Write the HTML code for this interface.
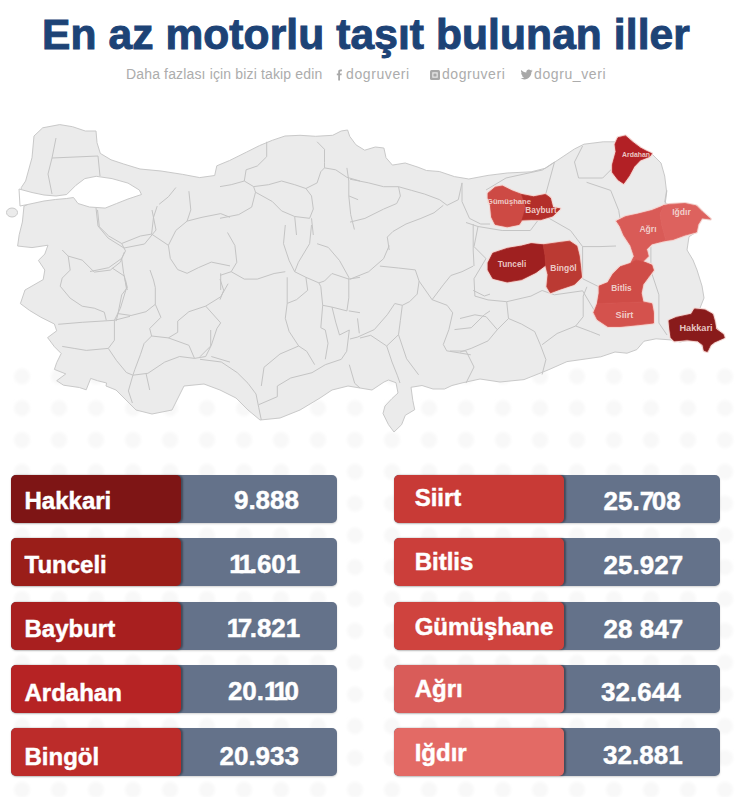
<!DOCTYPE html>
<html><head><meta charset="utf-8">
<style>
html,body{margin:0;padding:0;background:#fff;}
body{width:750px;height:797px;position:relative;overflow:hidden;font-family:"Liberation Sans",sans-serif;}
svg.bg{position:absolute;left:0;top:0;}
.title{position:absolute;left:42px;top:10.5px;font-weight:bold;font-size:42.5px;color:#1d4376;-webkit-text-stroke:1px #1d4376;white-space:nowrap;letter-spacing:0.1px;}
.sub{position:absolute;top:66px;font-size:14px;color:#acacac;white-space:nowrap;}
.bar{position:absolute;height:48px;background:#64728a;border-radius:5px;box-shadow:0 1px 2px rgba(0,0,0,0.18);}
.red{position:absolute;left:0;top:0;bottom:0;border-radius:5px;box-shadow:1.5px 0 2px rgba(0,0,0,0.35);}
.lab{position:absolute;height:48px;line-height:48px;font-weight:bold;font-size:24px;color:#fff;-webkit-text-stroke:0.45px #fff;white-space:nowrap;}
.num{position:absolute;height:48px;line-height:48px;font-weight:bold;font-size:26px;color:#fff;-webkit-text-stroke:0.45px #fff;white-space:nowrap;letter-spacing:0px;}
</style></head><body>
<svg class="bg" width="750" height="797" viewBox="0 0 750 797">
<defs><filter id="bl" x="-10%" y="-10%" width="120%" height="120%"><feGaussianBlur stdDeviation="1.5"/></filter></defs>
<g filter="url(#bl)"><circle cx="22.0" cy="376.4" r="8" fill="#f8f8f8"/><circle cx="59.0" cy="376.4" r="8" fill="#f8f8f8"/><circle cx="96.0" cy="376.4" r="8" fill="#f8f8f8"/><circle cx="133.0" cy="376.4" r="8" fill="#f8f8f8"/><circle cx="170.0" cy="376.4" r="8" fill="#f8f8f8"/><circle cx="207.0" cy="376.4" r="8" fill="#f8f8f8"/><circle cx="244.0" cy="376.4" r="8" fill="#f8f8f8"/><circle cx="281.0" cy="376.4" r="8" fill="#f8f8f8"/><circle cx="318.0" cy="376.4" r="8" fill="#f8f8f8"/><circle cx="355.0" cy="376.4" r="8" fill="#f8f8f8"/><circle cx="392.0" cy="376.4" r="8" fill="#f8f8f8"/><circle cx="429.0" cy="376.4" r="8" fill="#f8f8f8"/><circle cx="466.0" cy="376.4" r="8" fill="#f8f8f8"/><circle cx="503.0" cy="376.4" r="8" fill="#f8f8f8"/><circle cx="540.0" cy="376.4" r="8" fill="#f8f8f8"/><circle cx="577.0" cy="376.4" r="8" fill="#f8f8f8"/><circle cx="614.0" cy="376.4" r="8" fill="#f8f8f8"/><circle cx="651.0" cy="376.4" r="8" fill="#f8f8f8"/><circle cx="688.0" cy="376.4" r="8" fill="#f8f8f8"/><circle cx="725.0" cy="376.4" r="8" fill="#f8f8f8"/><circle cx="762.0" cy="376.4" r="8" fill="#f8f8f8"/><circle cx="22.0" cy="408.2" r="8" fill="#f8f8f8"/><circle cx="59.0" cy="408.2" r="8" fill="#f8f8f8"/><circle cx="96.0" cy="408.2" r="8" fill="#f8f8f8"/><circle cx="133.0" cy="408.2" r="8" fill="#f8f8f8"/><circle cx="170.0" cy="408.2" r="8" fill="#f8f8f8"/><circle cx="207.0" cy="408.2" r="8" fill="#f8f8f8"/><circle cx="244.0" cy="408.2" r="8" fill="#f8f8f8"/><circle cx="281.0" cy="408.2" r="8" fill="#f8f8f8"/><circle cx="318.0" cy="408.2" r="8" fill="#f8f8f8"/><circle cx="355.0" cy="408.2" r="8" fill="#f8f8f8"/><circle cx="392.0" cy="408.2" r="8" fill="#f8f8f8"/><circle cx="429.0" cy="408.2" r="8" fill="#f8f8f8"/><circle cx="466.0" cy="408.2" r="8" fill="#f8f8f8"/><circle cx="503.0" cy="408.2" r="8" fill="#f8f8f8"/><circle cx="540.0" cy="408.2" r="8" fill="#f8f8f8"/><circle cx="577.0" cy="408.2" r="8" fill="#f8f8f8"/><circle cx="614.0" cy="408.2" r="8" fill="#f8f8f8"/><circle cx="651.0" cy="408.2" r="8" fill="#f8f8f8"/><circle cx="688.0" cy="408.2" r="8" fill="#f8f8f8"/><circle cx="725.0" cy="408.2" r="8" fill="#f8f8f8"/><circle cx="762.0" cy="408.2" r="8" fill="#f8f8f8"/><circle cx="22.0" cy="440.0" r="8" fill="#f8f8f8"/><circle cx="59.0" cy="440.0" r="8" fill="#f8f8f8"/><circle cx="96.0" cy="440.0" r="8" fill="#f8f8f8"/><circle cx="133.0" cy="440.0" r="8" fill="#f8f8f8"/><circle cx="170.0" cy="440.0" r="8" fill="#f8f8f8"/><circle cx="207.0" cy="440.0" r="8" fill="#f8f8f8"/><circle cx="244.0" cy="440.0" r="8" fill="#f8f8f8"/><circle cx="281.0" cy="440.0" r="8" fill="#f8f8f8"/><circle cx="318.0" cy="440.0" r="8" fill="#f8f8f8"/><circle cx="355.0" cy="440.0" r="8" fill="#f8f8f8"/><circle cx="392.0" cy="440.0" r="8" fill="#f8f8f8"/><circle cx="429.0" cy="440.0" r="8" fill="#f8f8f8"/><circle cx="466.0" cy="440.0" r="8" fill="#f8f8f8"/><circle cx="503.0" cy="440.0" r="8" fill="#f8f8f8"/><circle cx="540.0" cy="440.0" r="8" fill="#f8f8f8"/><circle cx="577.0" cy="440.0" r="8" fill="#f8f8f8"/><circle cx="614.0" cy="440.0" r="8" fill="#f8f8f8"/><circle cx="651.0" cy="440.0" r="8" fill="#f8f8f8"/><circle cx="688.0" cy="440.0" r="8" fill="#f8f8f8"/><circle cx="725.0" cy="440.0" r="8" fill="#f8f8f8"/><circle cx="762.0" cy="440.0" r="8" fill="#f8f8f8"/><circle cx="22.0" cy="471.8" r="8" fill="#f8f8f8"/><circle cx="59.0" cy="471.8" r="8" fill="#f8f8f8"/><circle cx="96.0" cy="471.8" r="8" fill="#f8f8f8"/><circle cx="133.0" cy="471.8" r="8" fill="#f8f8f8"/><circle cx="170.0" cy="471.8" r="8" fill="#f8f8f8"/><circle cx="207.0" cy="471.8" r="8" fill="#f8f8f8"/><circle cx="244.0" cy="471.8" r="8" fill="#f8f8f8"/><circle cx="281.0" cy="471.8" r="8" fill="#f8f8f8"/><circle cx="318.0" cy="471.8" r="8" fill="#f8f8f8"/><circle cx="355.0" cy="471.8" r="8" fill="#f8f8f8"/><circle cx="392.0" cy="471.8" r="8" fill="#f8f8f8"/><circle cx="429.0" cy="471.8" r="8" fill="#f8f8f8"/><circle cx="466.0" cy="471.8" r="8" fill="#f8f8f8"/><circle cx="503.0" cy="471.8" r="8" fill="#f8f8f8"/><circle cx="540.0" cy="471.8" r="8" fill="#f8f8f8"/><circle cx="577.0" cy="471.8" r="8" fill="#f8f8f8"/><circle cx="614.0" cy="471.8" r="8" fill="#f8f8f8"/><circle cx="651.0" cy="471.8" r="8" fill="#f8f8f8"/><circle cx="688.0" cy="471.8" r="8" fill="#f8f8f8"/><circle cx="725.0" cy="471.8" r="8" fill="#f8f8f8"/><circle cx="762.0" cy="471.8" r="8" fill="#f8f8f8"/><circle cx="22.0" cy="503.6" r="8" fill="#f8f8f8"/><circle cx="59.0" cy="503.6" r="8" fill="#f8f8f8"/><circle cx="96.0" cy="503.6" r="8" fill="#f8f8f8"/><circle cx="133.0" cy="503.6" r="8" fill="#f8f8f8"/><circle cx="170.0" cy="503.6" r="8" fill="#f8f8f8"/><circle cx="207.0" cy="503.6" r="8" fill="#f8f8f8"/><circle cx="244.0" cy="503.6" r="8" fill="#f8f8f8"/><circle cx="281.0" cy="503.6" r="8" fill="#f8f8f8"/><circle cx="318.0" cy="503.6" r="8" fill="#f8f8f8"/><circle cx="355.0" cy="503.6" r="8" fill="#f8f8f8"/><circle cx="392.0" cy="503.6" r="8" fill="#f8f8f8"/><circle cx="429.0" cy="503.6" r="8" fill="#f8f8f8"/><circle cx="466.0" cy="503.6" r="8" fill="#f8f8f8"/><circle cx="503.0" cy="503.6" r="8" fill="#f8f8f8"/><circle cx="540.0" cy="503.6" r="8" fill="#f8f8f8"/><circle cx="577.0" cy="503.6" r="8" fill="#f8f8f8"/><circle cx="614.0" cy="503.6" r="8" fill="#f8f8f8"/><circle cx="651.0" cy="503.6" r="8" fill="#f8f8f8"/><circle cx="688.0" cy="503.6" r="8" fill="#f8f8f8"/><circle cx="725.0" cy="503.6" r="8" fill="#f8f8f8"/><circle cx="762.0" cy="503.6" r="8" fill="#f8f8f8"/><circle cx="22.0" cy="535.4" r="8" fill="#f8f8f8"/><circle cx="59.0" cy="535.4" r="8" fill="#f8f8f8"/><circle cx="96.0" cy="535.4" r="8" fill="#f8f8f8"/><circle cx="133.0" cy="535.4" r="8" fill="#f8f8f8"/><circle cx="170.0" cy="535.4" r="8" fill="#f8f8f8"/><circle cx="207.0" cy="535.4" r="8" fill="#f8f8f8"/><circle cx="244.0" cy="535.4" r="8" fill="#f8f8f8"/><circle cx="281.0" cy="535.4" r="8" fill="#f8f8f8"/><circle cx="318.0" cy="535.4" r="8" fill="#f8f8f8"/><circle cx="355.0" cy="535.4" r="8" fill="#f8f8f8"/><circle cx="392.0" cy="535.4" r="8" fill="#f8f8f8"/><circle cx="429.0" cy="535.4" r="8" fill="#f8f8f8"/><circle cx="466.0" cy="535.4" r="8" fill="#f8f8f8"/><circle cx="503.0" cy="535.4" r="8" fill="#f8f8f8"/><circle cx="540.0" cy="535.4" r="8" fill="#f8f8f8"/><circle cx="577.0" cy="535.4" r="8" fill="#f8f8f8"/><circle cx="614.0" cy="535.4" r="8" fill="#f8f8f8"/><circle cx="651.0" cy="535.4" r="8" fill="#f8f8f8"/><circle cx="688.0" cy="535.4" r="8" fill="#f8f8f8"/><circle cx="725.0" cy="535.4" r="8" fill="#f8f8f8"/><circle cx="762.0" cy="535.4" r="8" fill="#f8f8f8"/><circle cx="22.0" cy="567.2" r="8" fill="#f8f8f8"/><circle cx="59.0" cy="567.2" r="8" fill="#f8f8f8"/><circle cx="96.0" cy="567.2" r="8" fill="#f8f8f8"/><circle cx="133.0" cy="567.2" r="8" fill="#f8f8f8"/><circle cx="170.0" cy="567.2" r="8" fill="#f8f8f8"/><circle cx="207.0" cy="567.2" r="8" fill="#f8f8f8"/><circle cx="244.0" cy="567.2" r="8" fill="#f8f8f8"/><circle cx="281.0" cy="567.2" r="8" fill="#f8f8f8"/><circle cx="318.0" cy="567.2" r="8" fill="#f8f8f8"/><circle cx="355.0" cy="567.2" r="8" fill="#f8f8f8"/><circle cx="392.0" cy="567.2" r="8" fill="#f8f8f8"/><circle cx="429.0" cy="567.2" r="8" fill="#f8f8f8"/><circle cx="466.0" cy="567.2" r="8" fill="#f8f8f8"/><circle cx="503.0" cy="567.2" r="8" fill="#f8f8f8"/><circle cx="540.0" cy="567.2" r="8" fill="#f8f8f8"/><circle cx="577.0" cy="567.2" r="8" fill="#f8f8f8"/><circle cx="614.0" cy="567.2" r="8" fill="#f8f8f8"/><circle cx="651.0" cy="567.2" r="8" fill="#f8f8f8"/><circle cx="688.0" cy="567.2" r="8" fill="#f8f8f8"/><circle cx="725.0" cy="567.2" r="8" fill="#f8f8f8"/><circle cx="762.0" cy="567.2" r="8" fill="#f8f8f8"/><circle cx="22.0" cy="599.0" r="8" fill="#f8f8f8"/><circle cx="59.0" cy="599.0" r="8" fill="#f8f8f8"/><circle cx="96.0" cy="599.0" r="8" fill="#f8f8f8"/><circle cx="133.0" cy="599.0" r="8" fill="#f8f8f8"/><circle cx="170.0" cy="599.0" r="8" fill="#f8f8f8"/><circle cx="207.0" cy="599.0" r="8" fill="#f8f8f8"/><circle cx="244.0" cy="599.0" r="8" fill="#f8f8f8"/><circle cx="281.0" cy="599.0" r="8" fill="#f8f8f8"/><circle cx="318.0" cy="599.0" r="8" fill="#f8f8f8"/><circle cx="355.0" cy="599.0" r="8" fill="#f8f8f8"/><circle cx="392.0" cy="599.0" r="8" fill="#f8f8f8"/><circle cx="429.0" cy="599.0" r="8" fill="#f8f8f8"/><circle cx="466.0" cy="599.0" r="8" fill="#f8f8f8"/><circle cx="503.0" cy="599.0" r="8" fill="#f8f8f8"/><circle cx="540.0" cy="599.0" r="8" fill="#f8f8f8"/><circle cx="577.0" cy="599.0" r="8" fill="#f8f8f8"/><circle cx="614.0" cy="599.0" r="8" fill="#f8f8f8"/><circle cx="651.0" cy="599.0" r="8" fill="#f8f8f8"/><circle cx="688.0" cy="599.0" r="8" fill="#f8f8f8"/><circle cx="725.0" cy="599.0" r="8" fill="#f8f8f8"/><circle cx="762.0" cy="599.0" r="8" fill="#f8f8f8"/><circle cx="22.0" cy="630.8" r="8" fill="#f8f8f8"/><circle cx="59.0" cy="630.8" r="8" fill="#f8f8f8"/><circle cx="96.0" cy="630.8" r="8" fill="#f8f8f8"/><circle cx="133.0" cy="630.8" r="8" fill="#f8f8f8"/><circle cx="170.0" cy="630.8" r="8" fill="#f8f8f8"/><circle cx="207.0" cy="630.8" r="8" fill="#f8f8f8"/><circle cx="244.0" cy="630.8" r="8" fill="#f8f8f8"/><circle cx="281.0" cy="630.8" r="8" fill="#f8f8f8"/><circle cx="318.0" cy="630.8" r="8" fill="#f8f8f8"/><circle cx="355.0" cy="630.8" r="8" fill="#f8f8f8"/><circle cx="392.0" cy="630.8" r="8" fill="#f8f8f8"/><circle cx="429.0" cy="630.8" r="8" fill="#f8f8f8"/><circle cx="466.0" cy="630.8" r="8" fill="#f8f8f8"/><circle cx="503.0" cy="630.8" r="8" fill="#f8f8f8"/><circle cx="540.0" cy="630.8" r="8" fill="#f8f8f8"/><circle cx="577.0" cy="630.8" r="8" fill="#f8f8f8"/><circle cx="614.0" cy="630.8" r="8" fill="#f8f8f8"/><circle cx="651.0" cy="630.8" r="8" fill="#f8f8f8"/><circle cx="688.0" cy="630.8" r="8" fill="#f8f8f8"/><circle cx="725.0" cy="630.8" r="8" fill="#f8f8f8"/><circle cx="762.0" cy="630.8" r="8" fill="#f8f8f8"/><circle cx="22.0" cy="662.6" r="8" fill="#f8f8f8"/><circle cx="59.0" cy="662.6" r="8" fill="#f8f8f8"/><circle cx="96.0" cy="662.6" r="8" fill="#f8f8f8"/><circle cx="133.0" cy="662.6" r="8" fill="#f8f8f8"/><circle cx="170.0" cy="662.6" r="8" fill="#f8f8f8"/><circle cx="207.0" cy="662.6" r="8" fill="#f8f8f8"/><circle cx="244.0" cy="662.6" r="8" fill="#f8f8f8"/><circle cx="281.0" cy="662.6" r="8" fill="#f8f8f8"/><circle cx="318.0" cy="662.6" r="8" fill="#f8f8f8"/><circle cx="355.0" cy="662.6" r="8" fill="#f8f8f8"/><circle cx="392.0" cy="662.6" r="8" fill="#f8f8f8"/><circle cx="429.0" cy="662.6" r="8" fill="#f8f8f8"/><circle cx="466.0" cy="662.6" r="8" fill="#f8f8f8"/><circle cx="503.0" cy="662.6" r="8" fill="#f8f8f8"/><circle cx="540.0" cy="662.6" r="8" fill="#f8f8f8"/><circle cx="577.0" cy="662.6" r="8" fill="#f8f8f8"/><circle cx="614.0" cy="662.6" r="8" fill="#f8f8f8"/><circle cx="651.0" cy="662.6" r="8" fill="#f8f8f8"/><circle cx="688.0" cy="662.6" r="8" fill="#f8f8f8"/><circle cx="725.0" cy="662.6" r="8" fill="#f8f8f8"/><circle cx="762.0" cy="662.6" r="8" fill="#f8f8f8"/><circle cx="22.0" cy="694.4" r="8" fill="#f8f8f8"/><circle cx="59.0" cy="694.4" r="8" fill="#f8f8f8"/><circle cx="96.0" cy="694.4" r="8" fill="#f8f8f8"/><circle cx="133.0" cy="694.4" r="8" fill="#f8f8f8"/><circle cx="170.0" cy="694.4" r="8" fill="#f8f8f8"/><circle cx="207.0" cy="694.4" r="8" fill="#f8f8f8"/><circle cx="244.0" cy="694.4" r="8" fill="#f8f8f8"/><circle cx="281.0" cy="694.4" r="8" fill="#f8f8f8"/><circle cx="318.0" cy="694.4" r="8" fill="#f8f8f8"/><circle cx="355.0" cy="694.4" r="8" fill="#f8f8f8"/><circle cx="392.0" cy="694.4" r="8" fill="#f8f8f8"/><circle cx="429.0" cy="694.4" r="8" fill="#f8f8f8"/><circle cx="466.0" cy="694.4" r="8" fill="#f8f8f8"/><circle cx="503.0" cy="694.4" r="8" fill="#f8f8f8"/><circle cx="540.0" cy="694.4" r="8" fill="#f8f8f8"/><circle cx="577.0" cy="694.4" r="8" fill="#f8f8f8"/><circle cx="614.0" cy="694.4" r="8" fill="#f8f8f8"/><circle cx="651.0" cy="694.4" r="8" fill="#f8f8f8"/><circle cx="688.0" cy="694.4" r="8" fill="#f8f8f8"/><circle cx="725.0" cy="694.4" r="8" fill="#f8f8f8"/><circle cx="762.0" cy="694.4" r="8" fill="#f8f8f8"/><circle cx="22.0" cy="726.2" r="8" fill="#f8f8f8"/><circle cx="59.0" cy="726.2" r="8" fill="#f8f8f8"/><circle cx="96.0" cy="726.2" r="8" fill="#f8f8f8"/><circle cx="133.0" cy="726.2" r="8" fill="#f8f8f8"/><circle cx="170.0" cy="726.2" r="8" fill="#f8f8f8"/><circle cx="207.0" cy="726.2" r="8" fill="#f8f8f8"/><circle cx="244.0" cy="726.2" r="8" fill="#f8f8f8"/><circle cx="281.0" cy="726.2" r="8" fill="#f8f8f8"/><circle cx="318.0" cy="726.2" r="8" fill="#f8f8f8"/><circle cx="355.0" cy="726.2" r="8" fill="#f8f8f8"/><circle cx="392.0" cy="726.2" r="8" fill="#f8f8f8"/><circle cx="429.0" cy="726.2" r="8" fill="#f8f8f8"/><circle cx="466.0" cy="726.2" r="8" fill="#f8f8f8"/><circle cx="503.0" cy="726.2" r="8" fill="#f8f8f8"/><circle cx="540.0" cy="726.2" r="8" fill="#f8f8f8"/><circle cx="577.0" cy="726.2" r="8" fill="#f8f8f8"/><circle cx="614.0" cy="726.2" r="8" fill="#f8f8f8"/><circle cx="651.0" cy="726.2" r="8" fill="#f8f8f8"/><circle cx="688.0" cy="726.2" r="8" fill="#f8f8f8"/><circle cx="725.0" cy="726.2" r="8" fill="#f8f8f8"/><circle cx="762.0" cy="726.2" r="8" fill="#f8f8f8"/><circle cx="22.0" cy="758.0" r="8" fill="#f8f8f8"/><circle cx="59.0" cy="758.0" r="8" fill="#f8f8f8"/><circle cx="96.0" cy="758.0" r="8" fill="#f8f8f8"/><circle cx="133.0" cy="758.0" r="8" fill="#f8f8f8"/><circle cx="170.0" cy="758.0" r="8" fill="#f8f8f8"/><circle cx="207.0" cy="758.0" r="8" fill="#f8f8f8"/><circle cx="244.0" cy="758.0" r="8" fill="#f8f8f8"/><circle cx="281.0" cy="758.0" r="8" fill="#f8f8f8"/><circle cx="318.0" cy="758.0" r="8" fill="#f8f8f8"/><circle cx="355.0" cy="758.0" r="8" fill="#f8f8f8"/><circle cx="392.0" cy="758.0" r="8" fill="#f8f8f8"/><circle cx="429.0" cy="758.0" r="8" fill="#f8f8f8"/><circle cx="466.0" cy="758.0" r="8" fill="#f8f8f8"/><circle cx="503.0" cy="758.0" r="8" fill="#f8f8f8"/><circle cx="540.0" cy="758.0" r="8" fill="#f8f8f8"/><circle cx="577.0" cy="758.0" r="8" fill="#f8f8f8"/><circle cx="614.0" cy="758.0" r="8" fill="#f8f8f8"/><circle cx="651.0" cy="758.0" r="8" fill="#f8f8f8"/><circle cx="688.0" cy="758.0" r="8" fill="#f8f8f8"/><circle cx="725.0" cy="758.0" r="8" fill="#f8f8f8"/><circle cx="762.0" cy="758.0" r="8" fill="#f8f8f8"/><circle cx="22.0" cy="789.8" r="8" fill="#f8f8f8"/><circle cx="59.0" cy="789.8" r="8" fill="#f8f8f8"/><circle cx="96.0" cy="789.8" r="8" fill="#f8f8f8"/><circle cx="133.0" cy="789.8" r="8" fill="#f8f8f8"/><circle cx="170.0" cy="789.8" r="8" fill="#f8f8f8"/><circle cx="207.0" cy="789.8" r="8" fill="#f8f8f8"/><circle cx="244.0" cy="789.8" r="8" fill="#f8f8f8"/><circle cx="281.0" cy="789.8" r="8" fill="#f8f8f8"/><circle cx="318.0" cy="789.8" r="8" fill="#f8f8f8"/><circle cx="355.0" cy="789.8" r="8" fill="#f8f8f8"/><circle cx="392.0" cy="789.8" r="8" fill="#f8f8f8"/><circle cx="429.0" cy="789.8" r="8" fill="#f8f8f8"/><circle cx="466.0" cy="789.8" r="8" fill="#f8f8f8"/><circle cx="503.0" cy="789.8" r="8" fill="#f8f8f8"/><circle cx="540.0" cy="789.8" r="8" fill="#f8f8f8"/><circle cx="577.0" cy="789.8" r="8" fill="#f8f8f8"/><circle cx="614.0" cy="789.8" r="8" fill="#f8f8f8"/><circle cx="651.0" cy="789.8" r="8" fill="#f8f8f8"/><circle cx="688.0" cy="789.8" r="8" fill="#f8f8f8"/><circle cx="725.0" cy="789.8" r="8" fill="#f8f8f8"/><circle cx="762.0" cy="789.8" r="8" fill="#f8f8f8"/></g>
<g stroke="#c9c9c9" stroke-width="1" stroke-linejoin="round">
<polygon points="34.0,136.0 42.7,127.8 59.7,124.6 72.5,126.7 85.3,131.0 96.0,131.0 97.0,142.7 100.3,153.4 111.0,159.8 123.7,164.0 140.0,169.0 161.0,171.0 182.7,174.4 199.7,177.6 214.7,175.5 216.8,165.8 229.6,160.5 246.7,152.0 259.5,145.6 272.3,140.3 285.0,136.0 300.0,135.3 315.6,136.3 332.7,135.3 341.2,131.0 347.6,130.0 349.7,136.3 356.0,144.9 364.7,150.2 375.3,147.0 383.9,148.0 386.0,157.7 392.4,165.1 405.2,163.0 418.0,167.2 426.5,170.5 439.3,171.5 454.4,176.6 468.8,179.0 488.0,175.4 507.2,173.0 531.2,171.8 545.6,168.2 560.0,158.6 574.4,149.0 584.0,144.2 603.2,141.8 615.2,141.8 618.0,137.7 625.5,135.9 633.0,142.4 640.4,148.0 651.6,153.6 661.0,163.0 664.7,176.0 666.5,191.0 664.7,202.0 670.0,205.9 683.0,205.0 696.4,205.9 702.0,211.5 710.4,219.0 702.0,218.0 698.0,224.5 696.4,232.0 689.0,236.7 687.0,250.0 693.0,260.0 697.0,270.0 702.0,286.0 704.0,298.0 700.0,308.0 704.0,310.0 712.0,314.0 714.0,324.0 720.0,332.0 724.0,338.0 716.0,340.0 710.0,344.0 708.0,350.0 704.0,350.0 700.0,342.0 690.0,340.0 680.0,342.0 672.0,340.0 656.0,338.8 644.0,341.2 636.8,349.6 627.0,353.2 615.0,352.0 600.8,356.8 584.0,359.2 567.0,361.6 548.0,370.0 524.0,379.6 500.0,382.0 480.0,379.0 463.0,382.7 452.0,385.5 444.5,389.0 433.0,389.0 422.0,385.5 411.0,387.3 412.8,400.4 414.7,409.7 405.3,415.3 401.6,424.7 394.0,432.0 388.5,424.7 383.0,413.5 385.0,406.0 392.0,398.5 398.0,393.0 396.0,382.7 388.5,380.0 384.0,382.0 372.0,390.0 360.0,388.0 348.0,386.0 332.0,390.0 320.0,398.0 300.0,410.0 280.0,418.0 260.0,420.0 248.0,410.0 236.0,398.0 220.0,390.0 204.0,384.0 184.0,386.0 180.0,394.0 172.0,410.0 152.0,414.0 136.0,410.0 128.0,402.0 116.0,390.0 106.0,386.0 106.6,383.0 97.5,380.7 90.7,378.4 86.2,389.8 79.4,387.5 63.5,385.2 56.7,380.7 65.8,373.9 54.4,369.4 56.7,362.6 61.2,353.5 54.4,346.7 47.6,337.6 56.7,330.8 54.4,324.0 40.8,317.2 29.5,310.4 20.4,303.6 25.0,290.0 32.0,286.0 43.2,279.6 44.8,270.0 38.4,260.4 44.8,254.0 48.0,245.2 32.0,247.6 17.6,246.0 19.2,234.8 22.4,222.0 24.0,206.0 27.7,204.6 21.0,194.0 21.3,187.5 25.6,181.0 32.0,157.7" fill="#ebebeb"/>
<polygon points="19.0,189.0 32.0,192.5 44.0,195.0 56.0,196.0 66.7,194.5 75.8,185.4 84.8,178.6 96.2,176.3 112.0,178.6 128.0,183.1 139.3,190.0 141.5,194.5 128.0,199.0 116.6,203.5 105.2,208.1 89.4,207.0 78.0,203.5 73.5,197.5 66.7,198.5 55.3,199.5 44.0,201.0 30.0,204.0 20.0,206.0" fill="#ffffff"/>
<ellipse cx="12" cy="212.5" rx="5.5" ry="4.5" fill="#ebebeb"/>
</g>
<g stroke="#c4c4c4" stroke-width="1" fill="none" stroke-linejoin="round">
<polyline points="56.0,138.0 52.0,158.0 48.0,174.0 52.0,194.0"/><polyline points="52.0,158.0 75.0,157.0 98.0,156.0"/><polyline points="98.0,156.0 100.0,176.0"/><polyline points="96.0,208.0 98.0,226.0 108.0,238.0 124.0,248.0"/><polyline points="152.0,210.0 156.0,230.0 144.5,244.0 124.0,248.0"/><polyline points="97.5,209.9 99.3,226.7 108.7,236.0 121.7,243.5 125.5,250.9 121.7,258.4 108.7,267.7 90.0,271.5"/><polyline points="121.7,243.5 140.4,236.0 151.6,234.1 153.5,217.3 157.2,206.1"/><polyline points="151.6,234.1 168.4,245.3 170.3,258.4 177.7,269.6 187.1,273.3 198.3,267.7 211.3,262.1 230.0,265.9"/><polyline points="168.4,245.3 175.9,230.4 187.1,221.1 190.8,209.9 188.9,191.2"/><polyline points="187.1,221.1 202.0,217.3 220.7,213.6 230.0,217.3"/><polyline points="121.7,258.4 123.6,273.3 127.3,290.0"/><polyline points="159.1,204.3 168.4,196.8 175.9,187.5"/><polyline points="220.7,273.3 220.7,290.0"/><polyline points="62.2,250.0 68.2,256.1 70.2,270.1 62.2,278.1 60.2,286.2 70.2,298.2 82.2,306.2 94.3,308.2 104.3,312.2 106.3,320.3"/><polyline points="68.2,256.1 82.2,260.1 94.3,272.1 110.3,270.1 120.4,262.1 124.4,252.0"/><polyline points="112.3,268.1 124.4,276.1 126.4,288.2 120.4,308.2 114.4,320.3"/><polyline points="58.2,324.3 82.2,322.3 114.4,320.3 130.0,316.3"/><polyline points="114.4,320.3 114.4,340.3 108.3,348.4 116.4,360.4 126.4,372.5 132.9,375.2"/><polyline points="62.2,346.4 74.2,348.4 86.3,350.4 108.3,348.4"/><polyline points="125.5,280.0 127.3,287.5 121.7,294.9 118.0,313.6 116.1,321.1"/><polyline points="118.0,313.6 131.1,315.5 146.0,311.7 155.3,304.3 155.3,287.5 153.5,280.0 150.0,270.0"/><polyline points="155.3,304.3 160.9,317.3 149.7,328.5 151.6,336.0 168.4,337.9 177.7,332.3 177.7,321.1 188.9,311.7 205.7,306.1 220.7,296.8 228.1,283.7"/><polyline points="151.6,336.0 144.1,343.5 140.4,354.7 134.8,369.6 132.9,375.2"/><polyline points="132.9,375.2 147.9,373.3 164.7,362.1 179.6,356.5 194.5,358.4 205.7,356.5 211.3,345.3 216.9,328.5 220.7,322.9"/><polyline points="168.4,337.9 188.9,345.3 194.5,358.4"/><polyline points="211.3,356.5 230.0,362.1"/><polyline points="205.7,306.1 220.7,322.9"/><polyline points="146.0,373.3 149.7,390.0"/><polyline points="132.9,375.2 128.4,390.9 132.4,403.0"/><polyline points="266.7,141.8 266.7,156.7 257.3,166.0 246.1,169.8 244.3,181.0 253.6,186.6 255.5,192.2 251.7,207.1 238.7,214.6 220.0,218.3"/><polyline points="253.6,186.6 268.5,184.7 281.6,181.0 294.7,184.7 305.9,188.5 317.1,182.9 320.8,171.7 324.5,167.9 335.7,169.8 346.9,177.3 360.0,181.0"/><polyline points="317.1,141.8 324.5,149.3 324.5,162.3 324.5,167.9"/><polyline points="346.9,167.9 348.8,181.0 348.8,195.9 358.1,199.7"/><polyline points="255.5,192.2 272.3,201.5 281.6,210.9 294.7,216.5 309.6,218.3 313.3,209.0 311.5,195.9 305.9,188.5"/><polyline points="294.7,216.5 296.5,235.0"/><polyline points="311.5,218.3 313.3,235.0"/><polyline points="220.0,186.6 231.2,184.7 244.3,181.0"/><polyline points="348.8,195.9 350.7,214.6 354.4,229.5"/><polyline points="227.5,232.5 234.9,245.5 236.8,262.3 231.2,271.7 220.0,275.4"/><polyline points="231.2,271.7 244.3,279.1 257.3,279.1 274.1,273.5 285.3,271.7"/><polyline points="285.3,225.0 283.5,243.7 289.1,260.5 294.7,271.7 305.9,277.3 318.9,282.9 324.5,281.0 332.0,273.5 348.8,279.1 360.0,277.3"/><polyline points="311.5,225.0 309.6,243.7 298.4,262.3 294.7,271.7"/><polyline points="317.1,243.7 328.3,247.4 339.5,260.5 348.8,277.3 348.8,297.8 346.9,310.9 332.0,307.1 322.7,305.3 320.8,286.6 318.9,282.9"/><polyline points="287.2,277.3 287.2,303.4 285.3,318.3 289.1,331.4 298.7,346.0"/><polyline points="305.9,277.3 307.7,290.3 296.5,299.7 287.2,303.4"/><polyline points="322.7,305.3 320.8,327.7 325.3,330.0"/><polyline points="348.8,310.9 360.0,312.7"/><polyline points="332.0,307.1 335.7,322.1 339.5,335.0 349.3,330.0"/><polyline points="220.0,279.1 223.7,290.3 220.0,299.7"/><polyline points="350.0,179.2 368.7,182.9 383.6,186.7 398.5,186.7 411.6,190.4 424.7,194.1 439.6,199.7 447.1,205.3 458.3,199.7 462.0,182.9"/><polyline points="398.5,186.7 400.4,196.0 396.7,203.5 383.6,209.1 364.9,218.4 350.0,222.1"/><polyline points="443.3,205.3 434.0,212.8 420.9,218.4 406.0,224.0 392.9,231.5 387.3,237.1 389.2,250.0"/><polyline points="462.0,182.9 462.0,201.6 469.5,218.4 480.7,224.0 490.0,224.0"/><polyline points="473.2,224.0 473.2,250.0 474.0,266.0"/><polyline points="389.2,245.6 383.6,258.7 368.7,271.7 350.0,279.2"/><polyline points="379.9,266.1 398.5,268.0 415.3,269.9 419.1,281.1 417.2,294.1 409.7,301.6 402.3,305.3 400.4,320.3 398.5,334.7 386.7,346.0"/><polyline points="419.1,281.1 432.1,299.7 447.1,305.3 452.7,312.8 448.9,329.6 443.3,344.5 446.7,350.8 470.8,354.8"/><polyline points="432.1,299.7 443.3,284.8 450.8,275.5 462.0,271.7 473.2,266.1"/><polyline points="402.3,305.3 394.8,303.5 387.3,314.7 374.3,329.6 357.5,337.1 350.0,339.0"/><polyline points="357.5,318.4 359.3,333.3"/><polyline points="454.5,329.6 471.3,327.7 484.4,314.7 490.0,310.9"/><polyline points="473.2,290.4 484.4,296.0 490.0,294.1"/><polyline points="200.0,359.3 221.3,362.0 237.3,372.7 248.0,383.3 256.0,394.0 258.7,407.3 261.3,420.0"/><polyline points="258.7,404.7 277.3,396.7 277.3,386.0 290.7,378.0 312.0,372.7 325.3,364.7 341.3,359.3"/><polyline points="261.3,386.0 264.0,367.3 280.0,354.0 298.7,346.0 306.7,351.3 314.7,364.7"/><polyline points="210.7,330.0 210.7,346.0 200.0,356.7"/><polyline points="325.3,330.0 328.0,343.3 325.3,359.3"/><polyline points="341.3,359.3 346.7,351.3 349.3,330.0"/><polyline points="349.3,364.7 354.7,383.3 360.0,388.0"/><polyline points="386.7,346.0 392.0,362.0 397.3,375.3 400.0,383.0"/><polyline points="360.0,338.0 370.7,335.3 386.7,346.0"/><polyline points="398.5,334.7 406.6,358.8 418.6,374.8"/><polyline points="450.0,351.0 466.0,351.0 474.0,367.0 466.0,383.0"/><polyline points="474.9,296.1 488.0,299.9 506.7,301.7 530.9,296.1 542.1,290.5 554.5,294.8 582.6,290.8"/><polyline points="506.7,301.7 508.5,318.5 521.6,324.1 534.7,331.6 540.3,344.7 545.9,359.6 542.1,374.5"/><polyline points="508.5,318.5 497.3,329.7 488.0,340.9 471.2,348.4 460.0,352.1"/><polyline points="460.0,318.5 474.9,314.8 486.1,316.7 497.3,329.7"/><polyline points="542.1,344.7 557.1,333.5 575.7,326.0 583.2,316.7 583.2,296.1 586.9,286.8"/><polyline points="575.7,326.0 590.7,331.6 600.0,335.3"/><polyline points="486.0,258.6 474.0,278.7 474.9,296.1"/><polyline points="582.6,146.0 574.5,162.0 578.6,178.0 602.7,178.0 614.7,166.0"/><polyline points="486.0,190.0 506.0,178.0 542.4,170.0 554.5,162.0"/><polyline points="554.5,162.0 542.4,206.4 542.4,214.5 530.3,230.5 502.2,230.5 478.0,226.5 466.0,222.5"/><polyline points="478.0,226.5 474.0,246.6 486.0,258.6"/><polyline points="542.4,214.5 570.5,230.5 582.6,246.6 600.0,246.6 616.0,246.0"/><polyline points="586.6,182.3 610.7,190.4 618.7,210.4 620.0,218.5"/><polyline points="665.0,205.0 666.9,190.4"/><polyline points="582.6,246.6 582.6,278.7 598.7,286.7"/><polyline points="582.6,290.8 594.6,310.9"/><polyline points="658.9,323.0 667.0,335.0"/><polyline points="650.9,246.6 650.9,270.7 658.9,294.8 658.9,323.0"/>
</g>
<g stroke="#f4d6d2" stroke-width="3" stroke-linejoin="round" fill="#f4d6d2">
<polygon points="488.0,193.2 495.2,187.2 502.4,186.0 512.0,190.8 521.6,194.4 526.0,207.0 522.0,220.0 519.2,224.4 507.2,226.8 495.2,224.4 491.6,217.2 490.4,205.2 488.0,198.0"/>
<polygon points="521.6,194.4 533.6,196.8 545.6,194.4 550.4,198.0 552.8,207.6 560.0,208.8 552.8,216.0 540.8,219.6 531.2,219.6 522.0,220.0 526.0,207.0"/>
<polygon points="488.0,262.8 492.8,253.2 507.2,248.4 521.6,246.0 531.2,243.6 543.2,244.8 545.0,255.0 545.6,265.2 536.0,272.4 521.6,279.6 507.2,282.0 492.8,278.4 488.0,270.0"/>
<polygon points="543.2,244.8 560.0,242.4 569.6,241.2 576.8,246.0 579.2,255.6 580.4,265.2 581.6,277.2 574.4,284.4 560.0,289.2 550.4,292.8 546.8,286.8 548.0,274.8 545.6,265.2 545.0,255.0"/>
<polygon points="618.0,137.7 625.5,135.9 633.0,142.4 640.4,148.0 646.0,151.0 651.6,153.6 649.7,156.4 640.4,160.0 634.0,166.7 629.0,176.0 623.6,183.5 618.0,179.7 612.4,172.3 612.4,164.8 616.0,151.7 615.0,144.3"/>
<polygon points="616.6,221.1 625.4,216.7 637.7,214.1 651.8,210.5 660.6,207.0 664.0,205.5 660.0,214.0 662.0,226.0 666.0,240.5 662.3,241.3 651.8,243.9 646.5,249.2 648.3,256.2 643.0,261.5 636.0,260.0 630.7,263.3 634.2,256.2 630.7,245.7 623.7,235.1 620.1,226.4"/>
<polygon points="664.0,205.5 669.4,204.4 685.0,203.5 696.4,205.9 702.0,211.5 710.4,219.0 702.0,218.0 698.0,224.5 696.4,232.0 685.0,235.1 672.9,239.5 666.0,240.5 662.0,226.0 660.0,214.0"/>
<polygon points="630.7,263.3 636.0,260.0 643.0,261.5 651.8,265.0 653.5,270.3 648.3,277.3 643.0,284.4 641.2,293.1 643.0,301.9 597.3,303.7 599.1,293.1 599.1,286.1 607.8,282.6 613.1,273.8 620.1,266.8"/>
<polygon points="597.3,303.7 643.0,301.9 651.8,303.7 653.5,312.5 653.5,323.0 637.7,324.8 620.1,326.5 607.8,326.5 597.3,319.5 593.8,312.5"/>
<polygon points="668.9,320.6 676.3,317.4 691.3,314.2 694.5,308.9 705.1,310.0 712.6,314.2 714.7,321.7 715.8,329.1 723.3,334.5 724.3,337.7 714.7,341.9 710.5,345.1 707.3,351.5 704.1,350.5 703.0,345.1 697.7,340.9 687.0,339.8 674.2,340.9 671.0,337.7 669.9,330.2"/>
</g>
<g stroke-width="0.8" stroke-linejoin="round">
<polygon points="488.0,193.2 495.2,187.2 502.4,186.0 512.0,190.8 521.6,194.4 526.0,207.0 522.0,220.0 519.2,224.4 507.2,226.8 495.2,224.4 491.6,217.2 490.4,205.2 488.0,198.0" fill="#cd4a44" stroke="#cd4a44"/>
<polygon points="521.6,194.4 533.6,196.8 545.6,194.4 550.4,198.0 552.8,207.6 560.0,208.8 552.8,216.0 540.8,219.6 531.2,219.6 522.0,220.0 526.0,207.0" fill="#b32e2a" stroke="#b32e2a"/>
<polygon points="488.0,262.8 492.8,253.2 507.2,248.4 521.6,246.0 531.2,243.6 543.2,244.8 545.0,255.0 545.6,265.2 536.0,272.4 521.6,279.6 507.2,282.0 492.8,278.4 488.0,270.0" fill="#9f2020" stroke="#9f2020"/>
<polygon points="543.2,244.8 560.0,242.4 569.6,241.2 576.8,246.0 579.2,255.6 580.4,265.2 581.6,277.2 574.4,284.4 560.0,289.2 550.4,292.8 546.8,286.8 548.0,274.8 545.6,265.2 545.0,255.0" fill="#bb3a33" stroke="#bb3a33"/>
<polygon points="618.0,137.7 625.5,135.9 633.0,142.4 640.4,148.0 646.0,151.0 651.6,153.6 649.7,156.4 640.4,160.0 634.0,166.7 629.0,176.0 623.6,183.5 618.0,179.7 612.4,172.3 612.4,164.8 616.0,151.7 615.0,144.3" fill="#b22025" stroke="#b22025"/>
<polygon points="616.6,221.1 625.4,216.7 637.7,214.1 651.8,210.5 660.6,207.0 664.0,205.5 660.0,214.0 662.0,226.0 666.0,240.5 662.3,241.3 651.8,243.9 646.5,249.2 648.3,256.2 643.0,261.5 636.0,260.0 630.7,263.3 634.2,256.2 630.7,245.7 623.7,235.1 620.1,226.4" fill="#d95b57" stroke="#d95b57"/>
<polygon points="664.0,205.5 669.4,204.4 685.0,203.5 696.4,205.9 702.0,211.5 710.4,219.0 702.0,218.0 698.0,224.5 696.4,232.0 685.0,235.1 672.9,239.5 666.0,240.5 662.0,226.0 660.0,214.0" fill="#dd625e" stroke="#dd625e"/>
<polygon points="630.7,263.3 636.0,260.0 643.0,261.5 651.8,265.0 653.5,270.3 648.3,277.3 643.0,284.4 641.2,293.1 643.0,301.9 597.3,303.7 599.1,293.1 599.1,286.1 607.8,282.6 613.1,273.8 620.1,266.8" fill="#cf4c47" stroke="#cf4c47"/>
<polygon points="597.3,303.7 643.0,301.9 651.8,303.7 653.5,312.5 653.5,323.0 637.7,324.8 620.1,326.5 607.8,326.5 597.3,319.5 593.8,312.5" fill="#d4524d" stroke="#d4524d"/>
<polygon points="668.9,320.6 676.3,317.4 691.3,314.2 694.5,308.9 705.1,310.0 712.6,314.2 714.7,321.7 715.8,329.1 723.3,334.5 724.3,337.7 714.7,341.9 710.5,345.1 707.3,351.5 704.1,350.5 703.0,345.1 697.7,340.9 687.0,339.8 674.2,340.9 671.0,337.7 669.9,330.2" fill="#891b1b" stroke="#891b1b"/>
</g>
<g font-family="Liberation Sans" font-weight="bold" fill="#f3dcd8" fill-opacity="0.9" text-anchor="middle">
<text x="636" y="157" font-size="6.9">Ardahan</text><text x="509" y="204" font-size="7.6">Gümüşhane</text><text x="541" y="213" font-size="8.3">Bayburt</text><text x="512" y="267" font-size="8.3">Tunceli</text><text x="563.5" y="270.5" font-size="8.5">Bingöl</text><text x="681.5" y="215" font-size="8.6">Iğdır</text><text x="648" y="231.5" font-size="8.6">Ağrı</text><text x="621.5" y="291" font-size="8.4">Bitlis</text><text x="624.5" y="318" font-size="9.2">Siirt</text><text x="696" y="331" font-size="9.2">Hakkari</text>
</g>
</svg>
<div class="title">En az motorlu taşıt bulunan iller</div>
<div class="sub" style="left:126px;letter-spacing:0.15px">Daha fazlası için bizi takip edin</div>
<div class="sub" style="left:346px;letter-spacing:0.6px">dogruveri</div>
<div class="sub" style="left:442px;letter-spacing:0.55px">dogruveri</div>
<div class="sub" style="left:534px;letter-spacing:0.6px">dogru_veri</div>
<svg style="position:absolute;left:334px;top:68px" width="10" height="14" viewBox="0 0 10 14"><path d="M6.5 1.5 C5 1.5 4.2 2.3 4.2 3.8 V5.5 H2.8 V7.3 H4.2 V12.5 H6 V7.3 H7.5 L7.8 5.5 H6 V4.2 C6 3.6 6.3 3.3 6.9 3.3 H7.9 V1.6 C7.5 1.5 7 1.5 6.5 1.5Z" fill="#a8a8a8"/></svg>
<svg style="position:absolute;left:429px;top:69px" width="12" height="12" viewBox="0 0 12 12"><rect x="1" y="1" width="10" height="10" rx="1.5" fill="#a8a8a8"/><rect x="3" y="3" width="6" height="6" rx="1" fill="#d8d8d8"/><circle cx="6" cy="6" r="1.6" fill="#a8a8a8"/></svg>
<svg style="position:absolute;left:520px;top:69px" width="13" height="11" viewBox="0 0 13 11"><path d="M12.5 1.6c-.45.2-.9.33-1.4.4.5-.3.9-.8 1.1-1.4-.5.3-1 .5-1.6.6C10.1.7 9.5.4 8.8.4c-1.4 0-2.5 1.1-2.5 2.5 0 .2 0 .4.1.6C4.3 3.4 2.5 2.4 1.3.9c-.2.4-.3.8-.3 1.3 0 .9.4 1.6 1.1 2.1-.4 0-.8-.1-1.1-.3 0 1.2.9 2.2 2 2.5-.4.1-.8.1-1.1 0 .3 1 1.2 1.7 2.3 1.7-.9.7-2 1.1-3.1 1.1H.5c1.1.7 2.4 1.1 3.8 1.1 4.6 0 7.1-3.8 7.1-7.1v-.3c.5-.4.9-.8 1.1-1.3z" fill="#a8a8a8"/></svg>
<div class="bar" style="left:11px;top:474.7px;width:326px"><div class="red" style="width:170px;background:#7e1515"></div></div><div class="lab" style="left:24.5px;top:476.8px">Hakkari</div><div class="num" style="right:451.0px;top:476.0px">9.888</div><div class="bar" style="left:11px;top:538.1px;width:326px"><div class="red" style="width:170px;background:#9a1e19"></div></div><div class="lab" style="left:24.5px;top:540.8px">Tunceli</div><div class="num" style="right:453.2px;top:540.0px"><span style="letter-spacing:-3.5px">1</span><span style="letter-spacing:-3.5px">1</span>.60<span style="letter-spacing:-3.5px">1</span></div><div class="bar" style="left:11px;top:601.5px;width:326px"><div class="red" style="width:170px;background:#a81f1f"></div></div><div class="lab" style="left:24.5px;top:604.8px">Bayburt</div><div class="num" style="right:453.2px;top:604.3px"><span style="letter-spacing:-3.5px">1</span><span style="letter-spacing:-2.5px">7</span>.82<span style="letter-spacing:-3.5px">1</span></div><div class="bar" style="left:11px;top:664.9px;width:326px"><div class="red" style="width:170px;background:#b62324"></div></div><div class="lab" style="left:24.5px;top:668.8px">Ardahan</div><div class="num" style="right:451.0px;top:667.4px">20.<span style="letter-spacing:-3.5px">1</span><span style="letter-spacing:-3.5px">1</span>0</div><div class="bar" style="left:11px;top:728.3px;width:326px"><div class="red" style="width:170px;background:#bc2c2a"></div></div><div class="lab" style="left:24.5px;top:732.7px">Bingöl</div><div class="num" style="right:451.0px;top:732.3px">20.933</div><div class="bar" style="left:394.4px;top:474.7px;width:325.7px"><div class="red" style="width:169.6px;background:#c83a36"></div></div><div class="lab" style="left:414.7px;top:474.0px">Siirt</div><div class="num" style="right:69.4px;top:476.9px">25.<span style="letter-spacing:-2.5px">7</span>08</div><div class="bar" style="left:394.4px;top:538.1px;width:325.7px"><div class="red" style="width:169.6px;background:#cb3e3a"></div></div><div class="lab" style="left:414.7px;top:538.3px">Bitlis</div><div class="num" style="right:69.4px;top:540.9px">25.92<span style="letter-spacing:-2.5px">7</span></div><div class="bar" style="left:394.4px;top:601.5px;width:325.7px"><div class="red" style="width:169.6px;background:#cf433e"></div></div><div class="lab" style="left:414.7px;top:602.6px">Gümüşhane</div><div class="num" style="right:69.4px;top:604.9px">28 84<span style="letter-spacing:-2.5px">7</span></div><div class="bar" style="left:394.4px;top:664.9px;width:325.7px"><div class="red" style="width:169.6px;background:#d95c59"></div></div><div class="lab" style="left:414.7px;top:664.8px">Ağrı</div><div class="num" style="right:69.4px;top:668.1px">32.644</div><div class="bar" style="left:394.4px;top:728.3px;width:325.7px"><div class="red" style="width:169.6px;background:#e36a65"></div></div><div class="lab" style="left:414.7px;top:729.0px">Iğdır</div><div class="num" style="right:70.9px;top:731.0px">32.88<span style="letter-spacing:-3.5px">1</span></div>
</body></html>
